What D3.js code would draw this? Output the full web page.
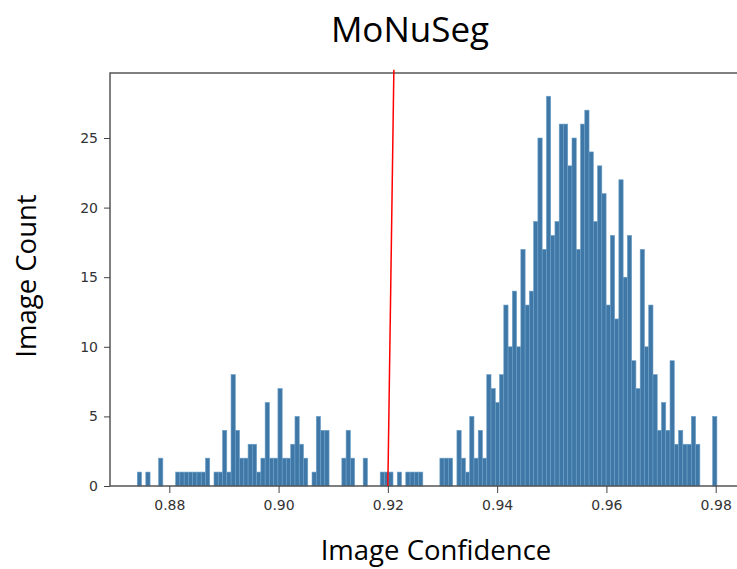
<!DOCTYPE html>
<head>
<style type="text/css">
	body { margin: 0; background: #fff; }
	.tick text { font-family: "DejaVu Sans", sans-serif; font-size: 14px; fill: #333; }
	.tick line { stroke: #444; }
</style>
</head>
<script src="https://d3js.org/d3.v7.min.js"></script>
<body>
	<svg width="737" height="569"></svg>
	<script>
	// histogram bins: first left edge, width, and count of each bin
	var binStart = 0.87414,
			binWidth = 0.00078;
	var counts = [
		1,0,1,0,0,2,0,0,0,1,
		1,1,1,1,1,1,2,0,1,1,
		4,1,8,4,2,2,3,3,1,2,
		6,2,2,7,2,2,3,5,3,2,
		0,1,5,4,4,0,0,0,2,4,
		2,0,0,2,0,0,0,1,1,1,
		0,1,0,1,1,1,1,0,0,0,
		0,2,2,2,0,4,2,1,5,2,
		4,2,8,7,6,8,13,10,14,10,
		17,13,14,19,25,17,28,18,19,26,
		26,23,25,17,26,27,24,19,23,21,
		13,18,12,22,15,18,9,7,17,10,
		13,8,4,6,4,9,3,4,3,3,
		5,3,0,0,0,5
	];
	var xTicks = [0.88, 0.90, 0.92, 0.94, 0.96, 0.98];
	var yTicks = [0, 5, 10, 15, 20, 25];
	// red threshold line (slightly slanted in the picture): x at bottom / top
	var thresholdX = [0.92, 0.9211];
	var thresholdY = [0, 29.9];

	var svg = d3.select("svg");

	var x = d3.scaleLinear().domain([0.88, 0.98]).range([169.3, 715.7]);
	var y = d3.scaleLinear().domain([0, 25]).range([486, 138]);

	var frameLeft = 110, frameTop = 73, frameRight = 745;

	var bins = counts.map(function(c, i) {
		return { x0: binStart + i * binWidth, x1: binStart + (i + 1) * binWidth, n: c };
	});

	svg.append("g")
		.selectAll("rect")
		.data(bins.filter(function(d) { return d.n > 0; }))
		.enter().append("rect")
		.attr("x", function(d) { return x(d.x0); })
		.attr("width", function(d) { return x(d.x1) - x(d.x0); })
		.attr("y", function(d) { return y(d.n); })
		.attr("height", function(d) { return y(0) - y(d.n); })
		.attr("fill", "#3f78a6")
		.attr("stroke", "#6b9fc8")
		.attr("stroke-width", 0.6);

	// frame (right side runs off the picture)
	svg.append("path")
		.attr("d", "M" + frameRight + "," + frameTop + "H" + frameLeft + "V" + y(0) + "H" + frameRight)
		.attr("fill", "none")
		.attr("stroke", "#555")
		.attr("stroke-width", 1.5);

	svg.append("g")
		.attr("transform", "translate(0," + y(0) + ")")
		.call(d3.axisBottom(x).tickValues(xTicks).tickSize(7).tickPadding(7)
			.tickFormat(d3.format(".2f")))
		.select(".domain").remove();

	svg.append("g")
		.attr("transform", "translate(" + frameLeft + ",0)")
		.call(d3.axisLeft(y).tickValues(yTicks).tickSize(6).tickPadding(6))
		.select(".domain").remove();

	svg.append("line")
		.attr("x1", x(thresholdX[0]))
		.attr("y1", y(thresholdY[0]))
		.attr("x2", x(thresholdX[1]))
		.attr("y2", y(thresholdY[1]))
		.attr("stroke", "#f00")
		.attr("stroke-width", 1.5);

	svg.append("text")
		.attr("x", 410)
		.attr("y", 42)
		.attr("text-anchor", "middle")
		.attr("font-family", "Open Sans, sans-serif")
		.attr("font-size", 35)
		.attr("fill", "#000")
		.text("MoNuSeg");

	svg.append("text")
		.attr("x", 436)
		.attr("y", 560)
		.attr("text-anchor", "middle")
		.attr("font-family", "Open Sans, sans-serif")
		.attr("font-size", 27.5)
		.attr("fill", "#000")
		.text("Image Confidence");

	svg.append("text")
		.attr("transform", "translate(36,276) rotate(-90)")
		.attr("text-anchor", "middle")
		.attr("font-family", "Open Sans, sans-serif")
		.attr("font-size", 27.5)
		.attr("fill", "#000")
		.text("Image Count");
	</script>
</body>
